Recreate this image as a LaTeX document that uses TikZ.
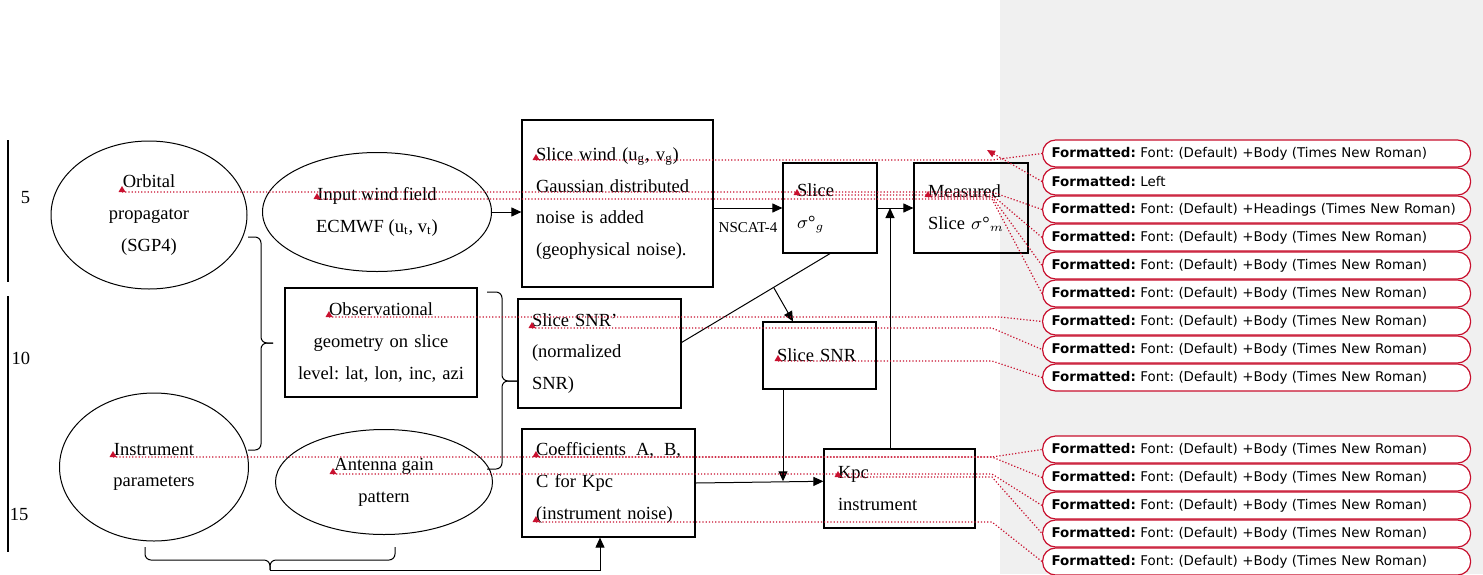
\documentclass[tikz,border=0pt]{standalone}
\usepackage{fontspec}
\setmainfont{Liberation Serif}
\newfontfamily\notefont{DejaVu Sans}
\usepackage{tikz}
\usetikzlibrary{arrows.meta,shapes.geometric,calc}
\definecolor{trackred}{RGB}{200,16,46}
\definecolor{margingray}{RGB}{240,240,240}
\def\tmark{-- ++(-3.5,0) -- ++(3.5,-6) -- ++(3.5,6) -- cycle}
\frenchspacing

\begin{document}
\begin{tikzpicture}[x=0.5pt,y=-0.5pt,line width=0.5pt,
        font=\fontsize{9.25pt}{15.9pt}\selectfont,
        >={Triangle[length=5pt,width=4.5pt]},
        box/.style={draw,line width=0.6pt,inner sep=0pt,align=left},
        oval/.style={draw,ellipse,inner sep=0pt,align=center},
        curly/.style={rounded corners=3pt},
        track/.style={trackred,densely dotted,line width=0.6pt},
        balloon/.style={draw=trackred,fill=white,line width=0.6pt,rounded corners=6.5pt,anchor=west,
            minimum height=13.5pt,inner xsep=4.5pt,inner ysep=0pt,text width=205pt,align=left,
            font=\notefont\fontsize{6.7pt}{8pt}\selectfont}]
            \useasboundingbox (0,0) rectangle (1483,574);
            \fill[margingray] (1000,0) rectangle (1483,574);

            \draw[line width=1pt] (8,140) -- (8,282);
            \draw[line width=1pt] (8,296) -- (8,552);
            \node (n5) at (25.5,198) {5};
            \node (n10) at (21,358) {10};
            \node (n15) at (19,514) {15};

            \node[oval,minimum width=98pt,minimum height=74pt] (orbit) at (149,215) {Orbital\\propagator\\(SGP4)};
            \node[oval,minimum width=114.5pt,minimum height=59.5pt] (wind) at (377,212) {Input wind field\\ECMWF (u\textsubscript{t}, v\textsubscript{t})};
            \node[oval,minimum width=94.5pt,minimum height=74pt] (instr) at (154,467) {Instrument\\parameters};
            \node[oval,minimum width=108.5pt,minimum height=52.5pt] (antenna) at (384,482) {Antenna gain\\pattern};

            \node[box,minimum width=95.5pt,minimum height=83.5pt,text width=81.5pt] (swind) at (617.5,203.5)
                {Slice wind (u\textsubscript{g}, v\textsubscript{g})\\Gaussian distributed\\noise is added\\(geophysical noise).};
            \node[box,minimum width=47pt,minimum height=45pt,text width=33pt] (sg) at (830,208) {Slice\\$\sigma$°$_g$};
            \node[box,minimum width=57pt,minimum height=45pt,text width=43pt] (meas) at (971,208) {Measured\\Slice $\sigma$°$_m$};
            \node[box,minimum width=96pt,minimum height=54.5pt,text width=84pt,align=center] (obs) at (381,342.5)
                {Observational\\geometry on slice\\level: lat, lon, inc, azi};
            \node[box,minimum width=81.5pt,minimum height=54.5pt,text width=67.5pt] (snrp) at (599.5,353.5) {Slice SNR’\\(normalized\\SNR)};
            \node[box,minimum width=56.5pt,minimum height=33.5pt,text width=42.5pt] (snr) at (819.5,355.5) {Slice SNR};
            \node[box,minimum width=86.5pt,minimum height=54pt,text width=72.5pt] (coef) at (608.5,483)
                {\makebox[72.5pt][l]{Coefficients\hfill A,\hfill B,}\\C for Kpc\\(instrument noise)};
            \node[box,minimum width=75.5pt,minimum height=39.5pt,text width=61.5pt] (kpc) at (899.5,488.5) {Kpc\\instrument};

            \draw[->] (wind) -- (swind.west |- wind);
            \draw[->] (swind.east |- sg) -- (sg)
                node[midway,below,yshift=-7pt,inner sep=0pt,font=\fontsize{7.5pt}{9pt}\selectfont] (nscat) {NSCAT-4};
            \draw[->] (sg) -- (meas);
            \draw[->] ([xshift=-4.75pt]kpc.north) -- ([xshift=-4.75pt]kpc.north |- meas.west);
            \coordinate (d1) at ($(snrp.north east)!0.4!(snrp.south east)$);
            \draw (sg.south) -- (d1);
            \draw[->] ($(sg.south)!0.38!(d1)$) -- ([xshift=-13.25pt]snr.north);
            \coordinate (kin) at ($(kpc.north west)!0.41!(kpc.south west)$);
            \draw[->] (coef.east) -- (kin);
            \draw[->] ([xshift=-18.25pt]snr.south) -- ([xshift=-18.25pt]snr.south |- kin);

            \coordinate (ltip) at (273,343);
            \draw[curly] (248,237) -- (261,237) -- (261,343) -- (ltip);
            \draw[curly] (248,450) -- (261,450) -- (261,343) -- (ltip);
            \coordinate (rtip) at (518,381);
            \draw[curly] (487,292) -- (502,292) -- (502,381) -- (rtip);
            \draw[curly] (487,469) -- (502,469) -- (502,381) -- (rtip);
            \coordinate (btip) at (270,570);
            \draw[curly] (145,547) -- (145,560) -- (270,560) -- (btip);
            \draw[curly] (395,547) -- (395,560) -- (270,560) -- (btip);
            \draw[->] (btip) -| ([xshift=-4.25pt]coef.south);

            \coordinate (msw) at (536,160);
            \coordinate (morb) at (122,192);
            \coordinate (msg) at (797,195);
            \coordinate (mmeas) at (928,197);
            \coordinate (mwind) at (317,199);
            \coordinate (mobs) at (329,317);
            \coordinate (msnrp) at (532,328);
            \coordinate (msnr) at (778,361);
            \coordinate (minstr) at (113,457);
            \coordinate (mcoef) at (536,457);
            \coordinate (mant) at (333,474);
            \coordinate (mkpc) at (838,477);
            \coordinate (mnoise) at (536,522);
            \coordinate (fan) at (992,0);
            \coordinate (fanb) at (1000,0);
            \coordinate (ptr) at (987,150);

            \node[balloon] (b1) at (1042,153.5) {\textbf{Formatted:} Font: (Default) +Body (Times New Roman)};
            \node[balloon] (b2) at (1042,181.5) {\textbf{Formatted:} Left};
            \node[balloon] (b3) at (1042,209.5) {\textbf{Formatted:} Font: (Default) +Headings (Times New Roman)};
            \node[balloon] (b4) at (1042,237.5) {\textbf{Formatted:} Font: (Default) +Body (Times New Roman)};
            \node[balloon] (b5) at (1042,265.5) {\textbf{Formatted:} Font: (Default) +Body (Times New Roman)};
            \node[balloon] (b6) at (1042,293.5) {\textbf{Formatted:} Font: (Default) +Body (Times New Roman)};
            \node[balloon] (b7) at (1042,321.5) {\textbf{Formatted:} Font: (Default) +Body (Times New Roman)};
            \node[balloon] (b8) at (1042,349.5) {\textbf{Formatted:} Font: (Default) +Body (Times New Roman)};
            \node[balloon] (b9) at (1042,377.5) {\textbf{Formatted:} Font: (Default) +Body (Times New Roman)};
            \node[balloon] (b10) at (1042,449.5) {\textbf{Formatted:} Font: (Default) +Body (Times New Roman)};
            \node[balloon] (b11) at (1042,477.5) {\textbf{Formatted:} Font: (Default) +Body (Times New Roman)};
            \node[balloon] (b12) at (1042,505.5) {\textbf{Formatted:} Font: (Default) +Body (Times New Roman)};
            \node[balloon] (b13) at (1042,533.5) {\textbf{Formatted:} Font: (Default) +Body (Times New Roman)};
            \node[balloon] (b14) at (1042,561.5) {\textbf{Formatted:} Font: (Default) +Body (Times New Roman)};

            \draw[track] (msw) -- (msw -| fan) -- (b1.west);
            \draw[track,-{Triangle[length=4pt,width=3.5pt]}] (b2.west) -- (ptr);
            \draw[track] (morb) -- (morb -| fan) -- (b3.west);
            \draw[track] (msg) -- (msg -| fan) -- (b4.west);
            \draw[track] (mmeas) -- (mmeas -| fan) -- (b5.west);
            \draw[track] (mwind) -- (mwind -| fan) -- (b6.west);
            \draw[track] (mobs) -- (mobs -| fanb) -- (b7.west);
            \draw[track] (msnrp) -- (msnrp -| fan) -- (b8.west);
            \draw[track] (msnr) -- (msnr -| fan) -- (b9.west);
            \draw[track] (minstr) -- (minstr -| fan) -- (b10.west);
            \draw[track] (mcoef) -- (mcoef -| fan) -- (b11.west);
            \draw[track] (mant) -- (mant -| fan) -- (b12.west);
            \draw[track] (mkpc) -- (mkpc -| fan) -- (b13.west);
            \draw[track] (mnoise) -- (mnoise -| fan) -- (b14.west);

            \fill[trackred] (msw) \tmark;
            \fill[trackred] (morb) \tmark;
            \fill[trackred] (msg) \tmark;
            \fill[trackred] (mmeas) \tmark;
            \fill[trackred] (mwind) \tmark;
            \fill[trackred] (mobs) \tmark;
            \fill[trackred] (msnrp) \tmark;
            \fill[trackred] (msnr) \tmark;
            \fill[trackred] (minstr) \tmark;
            \fill[trackred] (mcoef) \tmark;
            \fill[trackred] (mant) \tmark;
            \fill[trackred] (mkpc) \tmark;
            \fill[trackred] (mnoise) \tmark;
        \end{tikzpicture}
\end{document}
